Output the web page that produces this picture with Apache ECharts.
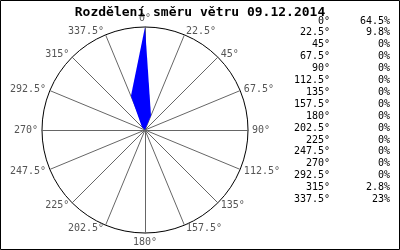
<!DOCTYPE html>
<html><head><meta charset="utf-8">
<script src="https://cdn.jsdelivr.net/npm/echarts@6/dist/echarts.min.js"></script>
<style>html,body{margin:0;padding:0;background:#fff}#c{width:400px;height:250px}</style>
</head><body><div id="c"></div>
<script>
var titleText = 'Rozdělení směru větru 09.12.2014';
var directions = ['0°','22.5°','45°','67.5°','90°','112.5°','135°','157.5°','180°','202.5°','225°','247.5°','270°','292.5°','315°','337.5°'];
var percents = [64.5, 9.8, 0, 0, 0, 0, 0, 0, 0, 0, 0, 0, 0, 0, 2.8, 23];
var percentLabels = ['64.5%','9.8%','0%','0%','0%','0%','0%','0%','0%','0%','0%','0%','0%','0%','2.8%','23%'];
var axisMax = 64.5;

// radar draws counterclockwise; reorder to get clockwise compass layout
var order = [0];
for (var i = directions.length - 1; i >= 1; i--) order.push(i);
var indicators = order.map(function(i){ return {name: directions[i], max: axisMax, min: 0}; });
var values = order.map(function(i){ return percents[i]; });

var chart = echarts.init(document.getElementById('c'), null, {renderer:'canvas'});
var mono = 'DejaVu Sans Mono';
chart.setOption({
  animation: false,
  title: {text: titleText, left: 'center', top: 1,
    textStyle: {fontFamily: mono, fontSize: 13, fontWeight: 'bold', color: '#000'}},
  radar: {
    center: [145, 130], radius: 103, startAngle: 90, shape: 'circle', splitNumber: 1,
    indicator: indicators,
    axisName: {color: '#555', fontFamily: mono, fontSize: 10},
    nameGap: 4,
    axisLine: {lineStyle: {color: '#666', width: 1}},
    splitLine: {lineStyle: {color: '#000', width: 1}},
    splitArea: {show: false},
    axisTick: {show: false}, axisLabel: {show: false}
  },
  series: [{
    type: 'radar', symbol: 'none',
    lineStyle: {width: 0, color: '#0000ff'},
    areaStyle: {color: '#0000ff', opacity: 1},
    data: [{value: values}]
  }],
  graphic: [
    {type: 'rect', shape: {x: 0.5, y: 0.5, width: 399, height: 249}, style: {fill: 'none', stroke: '#000', lineWidth: 1}, z: 100},
    {type: 'text', x: 330, y: 15, style: {text: directions.join('\n'), align: 'right', verticalAlign: 'top', fontFamily: mono, fontSize: 10, lineHeight: 11.9, fill: '#000'}},
    {type: 'text', x: 390, y: 15, style: {text: percentLabels.join('\n'), align: 'right', verticalAlign: 'top', fontFamily: mono, fontSize: 10, lineHeight: 11.9, fill: '#000'}}
  ]
});
</script></body></html>
